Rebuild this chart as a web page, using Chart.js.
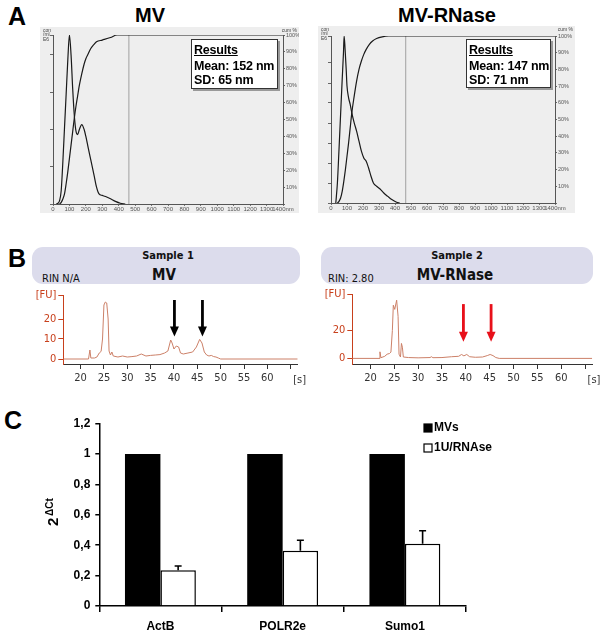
<!DOCTYPE html>
<html>
<head>
<meta charset="utf-8">
<script src="https://cdn.jsdelivr.net/npm/chart.js@4.4.1/dist/chart.umd.min.js"></script>
<style>
body { margin: 0; width: 600px; height: 634px; position: relative; overflow: hidden; background: #fff; font-family: "Liberation Sans", Arial, sans-serif; }
.abs { position: absolute; }
.letter { font-weight: bold; font-size: 25px; line-height: 25px; }
.title { font-weight: bold; font-size: 20px; line-height: 20px; text-align: center; }
.results { background: #fff; border: 1px solid #333; box-shadow: 2px 2px 0 #999; font-weight: bold; font-size: 12.5px; line-height: 14px; padding: 3px 0 0 2px; box-sizing: border-box; white-space: nowrap; letter-spacing: -0.2px; }
.results u { display: block; margin-bottom: 2px; }
.hdr { background: #dcdcec; border-radius: 11px; }
.hdr div { position: absolute; font-family: "DejaVu Sans Condensed", "DejaVu Sans", sans-serif; color: #111; white-space: nowrap; }
canvas.nta { background: #eeeeee; }
</style>
</head>
<body>

<div class="abs letter" style="left:8px;top:4px;">A</div>
<div class="abs title" style="left:100px;top:5px;width:100px;">MV</div>
<div class="abs title" style="left:387px;top:5px;width:120px;">MV-RNase</div>

<canvas id="ntaMV" class="abs nta" width="259" height="186" style="left:40px;top:27px;"></canvas>
<canvas id="ntaRN" class="abs nta" width="257" height="187" style="left:318px;top:26px;"></canvas>

<div class="abs results" style="left:191px;top:39px;width:87px;height:50px;"><u>Results</u>Mean: 152 nm<br>SD: 65 nm</div>
<div class="abs results" style="left:466px;top:39px;width:85px;height:49px;"><u>Results</u>Mean: 147 nm<br>SD: 71 nm</div>

<div class="abs letter" style="left:8px;top:246px;">B</div>
<div class="abs hdr" style="left:32px;top:247px;width:268px;height:37px;">
  <div style="left:0;width:272px;top:2px;text-align:center;font-weight:bold;font-size:11px;line-height:13px;">Sample 1</div>
  <div style="left:0;width:264px;top:20px;text-align:center;font-weight:bold;font-size:15px;line-height:16px;">MV</div>
  <div style="left:10px;top:25px;font-size:11px;line-height:14px;">RIN N/A</div>
</div>
<div class="abs hdr" style="left:321px;top:247px;width:272px;height:37px;">
  <div style="left:0;width:272px;top:2px;text-align:center;font-weight:bold;font-size:11px;line-height:13px;">Sample 2</div>
  <div style="left:0;width:268px;top:20px;text-align:center;font-weight:bold;font-size:15px;line-height:16px;">MV-RNase</div>
  <div style="left:7px;top:25px;font-size:11px;line-height:14px;">RIN: 2.80</div>
</div>

<canvas id="bioMV" class="abs" width="295" height="100" style="left:20px;top:285px;"></canvas>
<canvas id="bioRN" class="abs" width="295" height="100" style="left:305px;top:285px;"></canvas>

<div class="abs letter" style="left:4px;top:408px;">C</div>
<canvas id="qpcr" class="abs" width="600" height="234" style="left:0;top:400px;"></canvas>

<script>
// ---- Panel A: NTA size distributions (conc in E6/ml, cumulative in %) ----
const mvSize = [20, 30, 40, 50, 60, 70, 80, 90, 100, 110, 120, 130, 140, 150, 160, 175, 190, 200, 215, 230, 250, 265, 280, 300, 320, 350, 380, 410, 440];
const mvConc = [0, 0.02, 0.09, 0.36, 1.13, 2.04, 2.94, 3.85, 4.53, 3.99, 3.08, 2.36, 1.95, 1.86, 1.99, 2.13, 1.99, 1.81, 1.49, 1.18, 0.77, 0.45, 0.27, 0.23, 0.2, 0.14, 0.07, 0.02, 0];
const mvCumSize = [40, 50, 60, 70, 80, 90, 100, 110, 120, 130, 140, 150, 160, 175, 190, 200, 215, 230, 250, 265, 300, 350, 390, 1400];
const mvCum = [0, 1, 3, 6, 12, 19, 27, 35, 43, 51, 58, 64, 70, 77, 83, 86, 89, 92, 94.5, 96, 97, 98.5, 100, 100];

const rnSize = [30, 40, 50, 60, 70, 78, 82, 88, 95, 100, 110, 120, 130, 145, 160, 175, 190, 205, 220, 235, 250, 265, 285, 305, 330, 355, 380, 410, 430];
const rnConc = [0, 1.0, 2.67, 4.43, 6.18, 7.52, 8.35, 7.7, 6.68, 5.85, 5.26, 4.93, 4.51, 4.01, 3.59, 3.09, 2.59, 2.25, 2.09, 1.75, 1.34, 1.0, 0.84, 0.71, 0.5, 0.33, 0.17, 0.04, 0];
const rnCumSize = [40, 50, 60, 70, 80, 90, 100, 110, 120, 130, 145, 160, 175, 190, 205, 220, 240, 260, 285, 320, 360, 1400];
const rnCum = [0, 1, 3, 7, 13, 20, 28, 36, 45, 54, 64, 73, 80, 85, 89, 92, 95, 97, 98.5, 99.5, 100, 100];

const mvMarker = 462;   // nm, grey cursor line
const rnMarker = 467;

// ---- Panel B: Bioanalyzer electropherograms ----
const mvTime = [16.3, 21.7, 22, 22.2, 23, 23.5, 24, 24.4, 24.7, 25, 25.3, 25.6, 25.9, 26.1, 26.4, 26.7, 27, 28, 29, 30, 31, 32, 33, 34, 35, 36, 37, 38, 38.7, 39.3, 39.6, 40, 40.5, 41, 41.4, 42, 43, 44, 44.8, 45.5, 46, 46.5, 47, 47.5, 48, 48.5, 49, 49.5, 50, 66.5];
const mvFU = [0, 0, 4.5, 0.5, 0.5, 1, 3, 3.8, 10, 27, 28.5, 28, 20, 4, 2, 3.5, 1.5, 1, 1.5, 1, 1.2, 1.5, 2.5, 1.5, 1.8, 2, 2.2, 3, 4, 9.5, 8, 5, 6.5, 6, 3, 2.5, 3, 3.5, 6, 9.8, 8, 3.5, 2, 1.5, 1.8, 1.2, 1, 0.5, 0, 0];
const rnTime = [16.2, 21.8, 22, 22.2, 23, 23.5, 24, 24.3, 24.6, 24.8, 25.1, 25.5, 25.8, 26, 26.3, 26.5, 26.7, 26.9, 28, 30, 32.5, 32.8, 33.1, 35, 37, 38.5, 39.1, 39.6, 40.2, 40.8, 42, 43.5, 44.5, 45.1, 45.7, 46.3, 47, 66.5];
const rnFU = [0, 0, 4.7, 0.5, 1.5, 3, 3.5, 4.5, 20, 38, 35, 41.6, 30, 3, 1, 10.7, 8, 1, 0.6, 0.4, 0.6, 1.2, 0.5, 0.6, 1.2, 1.5, 2.8, 1.8, 2.8, 1.2, 0.8, 1, 2, 2.8, 2, 0.6, 0, 0];
const secTicks = [20, 25, 30, 35, 40, 45, 50, 55, 60, 65];
const mvFUTicks = [0, 10, 20, 32];
const rnFUTicks = [0, 20, 46];
const mvArrows = [40.1, 46.1];
const rnArrows = [39.5, 45.3];

// ---- Panel C: qPCR ----
const genes = ['ActB', 'POLR2e', 'Sumo1'];
const mvsValues = [1, 1, 1];
const rnaseValues = [0.236, 0.363, 0.41];
const rnaseErr = [0.027, 0.07, 0.085];

Chart.defaults.font.family = '"Liberation Sans", Arial, sans-serif';
Chart.defaults.animation = false;

const pts = (xs, ys) => xs.map((x, i) => ({ x: x, y: ys[i] }));

// tiny corner captions of the NTA software plot
const ntaCaptions = {
    id: 'ntaCaptions',
    afterDraw(chart) {
        const ctx = chart.ctx;
        ctx.save();
        ctx.font = '5px "Liberation Sans"';
        ctx.fillStyle = '#444';
        ctx.textBaseline = 'top';
        ctx.textAlign = 'left';
        ['con', '/ml', 'E6'].forEach((t, i) => ctx.fillText(t, 3, 1 + i * 4.5));
        ctx.textAlign = 'right';
        ctx.fillText('cum %', chart.width - 2, 1);
        ctx.restore();
    }
};

function ntaChart(id, size, conc, cumSize, cum, marker, concMax, area) {
    new Chart(document.getElementById(id), {
        type: 'line',
        data: {
            datasets: [
                { data: pts(size, conc), yAxisID: 'y', borderColor: '#1a1a1a', borderWidth: 1.2, pointRadius: 0, cubicInterpolationMode: 'monotone' },
                { data: pts(cumSize, cum), yAxisID: 'y2', borderColor: '#1a1a1a', borderWidth: 1.2, pointRadius: 0, cubicInterpolationMode: 'monotone' },
                { data: [{ x: marker, y: 0 }, { x: marker, y: 100 }], yAxisID: 'y2', borderColor: '#a0a0a0', borderWidth: 1, pointRadius: 0 }
            ]
        },
        options: {
            responsive: false,
            layout: { padding: { top: area.top, left: 0, right: 0, bottom: 0 } },
            plugins: { legend: { display: false }, tooltip: { enabled: false } },
            scales: {
                x: {
                    type: 'linear', min: 0, max: 1400,
                    afterFit: s => { s.height = area.bottom; },
                    grid: { drawOnChartArea: false, tickLength: 2, color: '#777' },
                    border: { color: '#555' },
                    ticks: { stepSize: 100, autoSkip: false, maxRotation: 0, padding: 0, color: '#555', font: { size: 6 },
                        callback: v => v === 1400 ? '1400nm' : v }
                },
                y: {
                    position: 'left', min: 0, max: concMax,
                    afterFit: s => { s.width = area.left; },
                    grid: { drawOnChartArea: false, tickLength: 3, color: '#666' },
                    border: { color: '#555' },
                    ticks: { display: false, stepSize: 1 }
                },
                y2: {
                    position: 'right', min: 0, max: 100,
                    afterFit: s => { s.width = area.right; },
                    grid: { drawOnChartArea: false, tickLength: 2, color: '#666' },
                    border: { color: '#555' },
                    ticks: { stepSize: 10, padding: 1, color: '#555', font: { size: 5.5 }, callback: v => v ? v + '%' : '' }
                }
            }
        },
        plugins: [ntaCaptions]
    });
}

ntaChart('ntaMV', mvSize, mvConc, mvCumSize, mvCum, mvMarker, 4.53, { top: 8, left: 13, right: 16, bottom: 9 });
ntaChart('ntaRN', rnSize, rnConc, rnCumSize, rnCum, rnMarker, 8.35, { top: 10, left: 13, right: 20, bottom: 10 });

// arrows pointing at the RNA peaks, placed in data units
const peakArrows = {
    id: 'peakArrows',
    afterDatasetsDraw(chart, args, opts) {
        const { ctx, scales } = chart;
        opts.at.forEach(t => {
            const px = scales.x.getPixelForValue(t);
            const y0 = scales.y.getPixelForValue(opts.from);
            const y1 = scales.y.getPixelForValue(opts.to);
            ctx.save();
            ctx.strokeStyle = opts.color;
            ctx.fillStyle = opts.color;
            ctx.lineWidth = 2.8;
            ctx.beginPath();
            ctx.moveTo(px, y0);
            ctx.lineTo(px, y1 - 8);
            ctx.stroke();
            ctx.beginPath();
            ctx.moveTo(px - 4.5, y1 - 10);
            ctx.lineTo(px + 4.5, y1 - 10);
            ctx.lineTo(px, y1);
            ctx.closePath();
            ctx.fill();
            ctx.restore();
        });
    }
};

// "[s]" unit next to the last time tick
const secUnit = {
    id: 'secUnit',
    afterDraw(chart) {
        const { ctx, scales } = chart;
        ctx.save();
        ctx.font = '11px "DejaVu Sans Condensed", "DejaVu Sans"';
        ctx.fillStyle = '#333';
        ctx.textAlign = 'center';
        ctx.textBaseline = 'middle';
        ctx.fillText('[s]', scales.x.getPixelForValue(65) + 9, scales.x.top + 16);
        ctx.restore();
    }
};

function bioChart(id, time, fu, fuTicks, fuMin, area, arrows) {
    const red = '#c8401c';
    new Chart(document.getElementById(id), {
        type: 'line',
        data: { datasets: [{ data: pts(time, fu), borderColor: '#cc8068', borderWidth: 1, pointRadius: 0, tension: 0 }] },
        options: {
            responsive: false,
            layout: { padding: { top: area.top, right: area.right, left: 0, bottom: 0 } },
            plugins: { legend: { display: false }, tooltip: { enabled: false }, peakArrows: arrows },
            scales: {
                x: {
                    type: 'linear', min: time[0], max: 66.5,
                    afterBuildTicks: s => { s.ticks = secTicks.map(v => ({ value: v })); },
                    afterFit: s => { s.height = area.bottom; },
                    grid: { drawOnChartArea: false, tickLength: 5, color: '#333' },
                    border: { color: '#333' },
                    ticks: { padding: 3, color: '#333', font: { size: 11, family: '"DejaVu Sans Condensed", "DejaVu Sans"' },
                        callback: v => v === 65 ? '' : v }
                },
                y: {
                    min: fuMin, max: fuTicks[fuTicks.length - 1],
                    afterBuildTicks: s => { s.ticks = fuTicks.map(v => ({ value: v })); },
                    afterFit: s => { s.width = area.left; },
                    grid: { drawOnChartArea: false, tickLength: 5, color: red },
                    border: { color: red },
                    ticks: { padding: 2, color: red, font: { size: 11, family: '"DejaVu Sans Condensed", "DejaVu Sans"' },
                        callback: v => v === fuTicks[fuTicks.length - 1] ? '[FU]' : v }
                }
            }
        },
        plugins: [peakArrows, secUnit]
    });
}

bioChart('bioMV', mvTime, mvFU, mvFUTicks, -2.5, { top: 10, right: 17.3, left: 43.3, bottom: 21 },
    { at: mvArrows, from: 29.5, to: 11.2, color: '#000' });
bioChart('bioRN', rnTime, rnFU, rnFUTicks, -4, { top: 9, right: 7.8, left: 47.3, bottom: 21 },
    { at: rnArrows, from: 38.8, to: 11.9, color: '#e8101a' });

// ---- Panel C chart ----
const narrow = '"Liberation Sans Narrow", "Liberation Sans", Arial, sans-serif';

const errorBars = {
    id: 'errorBars',
    afterDatasetsDraw(chart) {
        const { ctx, scales } = chart;
        chart.data.datasets.forEach((ds, di) => {
            if (!ds.errors) return;
            chart.getDatasetMeta(di).data.forEach((bar, i) => {
                const top = scales.y.getPixelForValue(ds.data[i] + ds.errors[i]);
                ctx.save();
                ctx.strokeStyle = '#000';
                ctx.lineWidth = 1.6;
                ctx.beginPath();
                ctx.moveTo(bar.x, bar.y);
                ctx.lineTo(bar.x, top);
                ctx.moveTo(bar.x - 3.5, top);
                ctx.lineTo(bar.x + 3.5, top);
                ctx.stroke();
                ctx.restore();
            });
        });
    }
};

const boxLegend = {
    id: 'boxLegend',
    afterDraw(chart) {
        const ctx = chart.ctx;
        ctx.save();
        ctx.font = 'bold 12px ' + narrow;
        ctx.textBaseline = 'middle';
        chart.data.datasets.forEach((ds, i) => {
            const y = 28 + i * 20;
            ctx.fillStyle = ds.backgroundColor;
            ctx.fillRect(424, y - 4, 8, 8);
            ctx.strokeStyle = '#000';
            ctx.lineWidth = 1.2;
            ctx.strokeRect(424, y - 4, 8, 8);
            ctx.fillStyle = '#000';
            ctx.fillText(ds.label, 434, y);
        });
        ctx.restore();
    }
};

const deltaCtTitle = {
    id: 'deltaCtTitle',
    afterDraw(chart) {
        const ctx = chart.ctx;
        ctx.save();
        ctx.translate(58, 126);
        ctx.rotate(-Math.PI / 2);
        ctx.fillStyle = '#000';
        ctx.textBaseline = 'alphabetic';
        ctx.font = 'bold 15px "Liberation Sans", Arial';
        ctx.fillText('2', 0, 0);
        ctx.font = 'bold 10px "Liberation Sans", Arial';
        ctx.fillText('\u0394Ct', 10, -5);
        ctx.restore();
    }
};

new Chart(document.getElementById('qpcr'), {
    type: 'bar',
    data: {
        labels: genes,
        datasets: [
            { label: 'MVs', data: mvsValues, backgroundColor: '#000', borderWidth: 0, categoryPercentage: 0.58, barPercentage: 1 },
            { label: '1U/RNAse', data: rnaseValues, errors: rnaseErr, backgroundColor: '#fff', borderColor: '#000', borderWidth: 1.5, categoryPercentage: 0.58, barPercentage: 1 }
        ]
    },
    options: {
        responsive: false,
        layout: { padding: { top: 23.6, right: 134, left: 0, bottom: 0 } },
        plugins: { legend: { display: false }, tooltip: { enabled: false } },
        scales: {
            x: {
                afterFit: s => { s.height = 28; },
                grid: { drawOnChartArea: false, tickLength: 6, color: '#000', lineWidth: 1.5 },
                border: { color: '#000', width: 1.5 },
                ticks: { padding: 7, color: '#000', font: { size: 12, weight: 'bold', family: narrow } }
            },
            y: {
                min: 0, max: 1.2,
                afterFit: s => { s.width = 99.3; },
                grid: { drawOnChartArea: false, tickLength: 4, color: '#000', lineWidth: 1.5 },
                border: { color: '#000', width: 1.5 },
                ticks: { stepSize: 0.2, padding: 5, color: '#000', font: { size: 12, weight: 'bold', family: narrow },
                    callback: v => String(Math.round(v * 10) / 10).replace('.', ',') }
            }
        }
    },
    plugins: [errorBars, boxLegend, deltaCtTitle]
});
</script>
</body>
</html>
